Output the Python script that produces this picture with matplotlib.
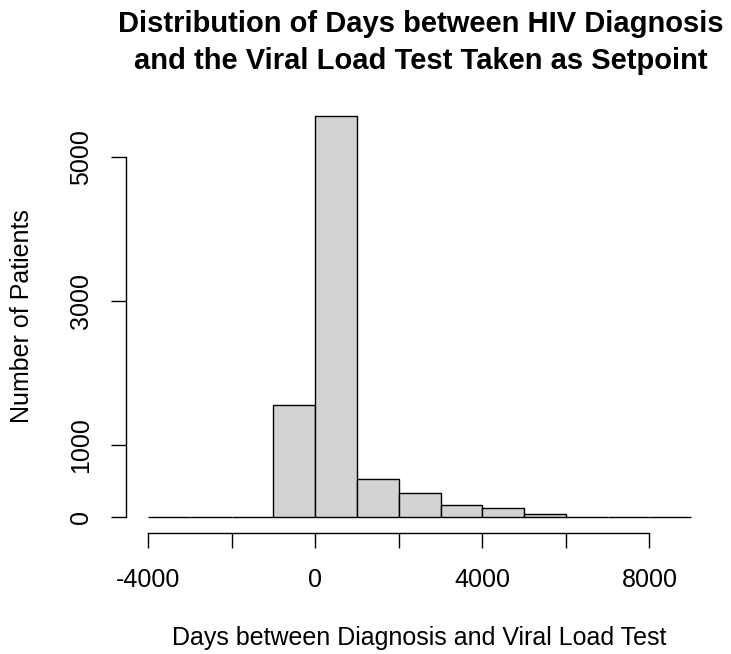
import matplotlib.pyplot as plt
import numpy as np

plt.rcParams['font.family'] = ['Liberation Sans', 'DejaVu Sans']

# bin edges (days) and counts per bin
bin_edges = np.arange(-4000, 9001, 1000)
counts = [0, 0, 0, 1546, 5569, 519, 324, 167, 125, 42, 0, 0, 0]

x_ticks = [-4000, -2000, 0, 2000, 4000, 6000, 8000]
x_labels = ['-4000', '', '0', '', '4000', '', '8000']
y_ticks = [0, 1000, 3000, 5000]
y_labels = ['0', '1000', '3000', '5000']

fig = plt.figure(figsize=(7.31, 6.54), dpi=100)
ax = fig.add_axes([126.3 / 731, 1 - 532.7 / 654, (713 - 126.3) / 731, (532.7 - 99.7) / 654])

ax.hist(bin_edges[:-1], bins=bin_edges, weights=counts,
        color='#d3d3d3', edgecolor='black', linewidth=1.0)

# R style 4% padding on both axes
xr = bin_edges[-1] - bin_edges[0]
ax.set_xlim(bin_edges[0] - 0.04 * xr, bin_edges[-1] + 0.04 * xr)
ymax = max(counts)
ax.set_ylim(-0.04 * ymax, ymax * 1.04)

for s in ['top', 'right']:
    ax.spines[s].set_visible(False)
ax.spines['left'].set_bounds(0, 5000)
ax.spines['bottom'].set_bounds(-4000, 8000)
for s in ['left', 'bottom']:
    ax.spines[s].set_linewidth(1.0)

ax.set_xticks(x_ticks)
ax.set_xticklabels(x_labels)
ax.set_yticks(y_ticks)
ax.set_yticklabels(y_labels, rotation=90, va='center')
ax.tick_params(axis='both', length=10.8, width=1.0, labelsize=18)
ax.tick_params(axis='x', pad=14.5)
ax.tick_params(axis='y', pad=13)

ax.set_xlabel('Days between Diagnosis and Viral Load Test', fontsize=18, va='center')
ax.xaxis.set_label_coords(0.5, (532.7 - 638) / 433)
ax.set_ylabel('Number of Patients', fontsize=18, va='center')
ax.yaxis.set_label_coords((22 - 126.3) / 586.7, 0.5)

fig.suptitle('Distribution of Days between HIV Diagnosis\nand the Viral Load Test Taken as Setpoint',
             x=421 / 731, y=1 - 10 / 654, fontsize=21, fontweight='bold', linespacing=1.42)

fig.savefig('out.png', dpi=100)
